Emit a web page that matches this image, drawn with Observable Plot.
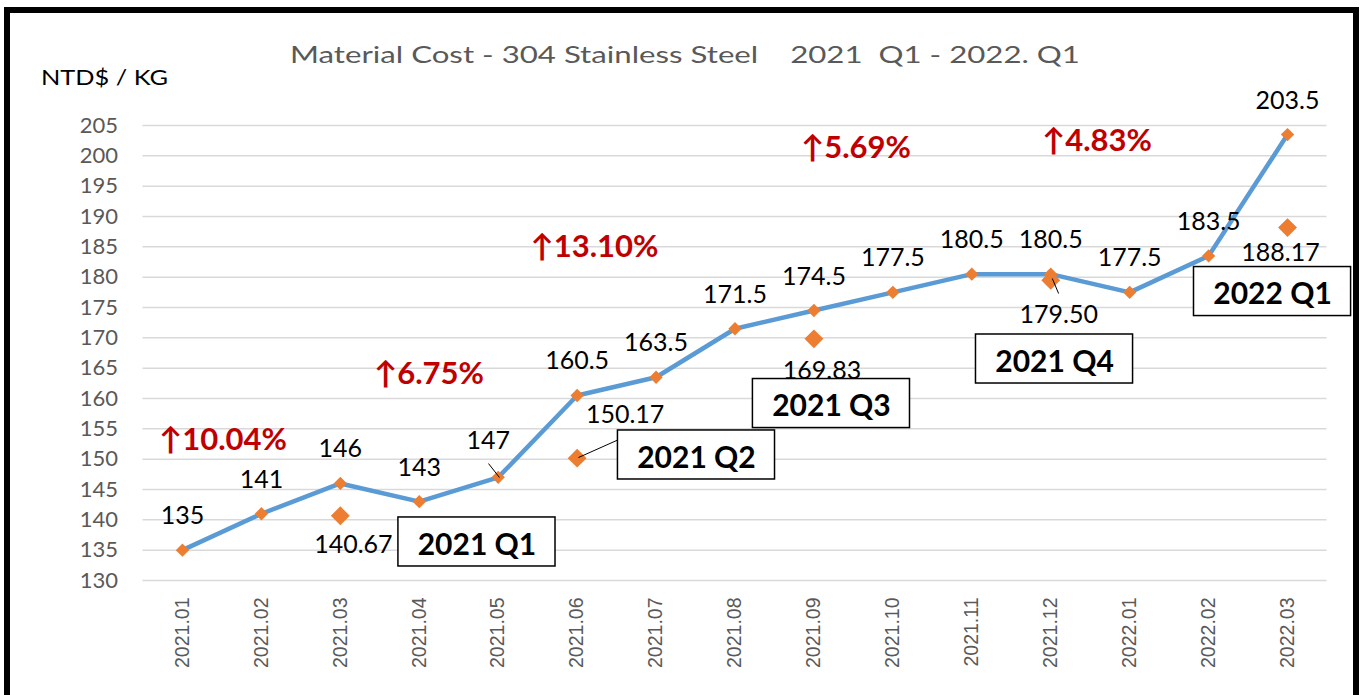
<!DOCTYPE html>
<html><head><meta charset="utf-8">
<script src="https://cdn.jsdelivr.net/npm/d3@7"></script>
<script src="https://cdn.jsdelivr.net/npm/@observablehq/plot@0.6"></script>
<style>
html,body{margin:0;padding:0;background:#fff;overflow:hidden;width:1361px;height:695px}
#chart{position:absolute;left:0;top:0}
#frame{position:absolute;left:4px;top:7px;width:1355px;height:720px;box-sizing:border-box;border:6px solid #000;border-bottom:none;pointer-events:none}
</style></head><body>
<div id="chart"></div><div id="frame"></div>
<script>
// ---- data ----
const months = ["2021.01","2021.02","2021.03","2021.04","2021.05","2021.06","2021.07","2021.08","2021.09","2021.10","2021.11","2021.12","2022.01","2022.02","2022.03"];
const prices = [135, 141, 146, 143, 147, 160.5, 163.5, 171.5, 174.5, 177.5, 180.5, 180.5, 177.5, 183.5, 203.5];
const quarterMonths = ["2021.03","2021.06","2021.09","2021.12","2022.03"];
const quarterAvg = [140.67, 150.17, 169.83, 179.50, 188.17];
const quarterNames = ["2021 Q1","2021 Q2","2021 Q3","2021 Q4","2022 Q1"];
const changeTexts = ["↑10.04%","↑6.75%","↑13.10%","↑5.69%","↑4.83%"];
const yTicks = [130,135,140,145,150,155,160,165,170,175,180,185,190,195,200,205];
const titleText = "Material Cost - 304 Stainless Steel\u00a0\u00a0\u00a0\u00a02021\u00a0\u00a0Q1 - 2022. Q1";
const unitText = "NTD$ / KG";

// ---- annotation layout (x in month index, y in NTD$/KG; offsets in px) ----
const changePos = [[0.513,153.1],[3.123,164.1],[5.22,184.9],[8.533,201.2],[11.586,202.5]];
const boxPos = [[3.731,136.35],[6.512,150.69],[8.222,159.17],[11.048,166.51],[13.81,177.63]];
const avgLabelOffset = [[13,29],[48,-43],[8,32],[8,35],[-7,25]];
const monthLabelDx = {4: -10};
const leaders = [[3.877,149.28,4.016,146.98],[5.017,150.27,5.613,153.73],[11.02,179.78,11.10,177.3]];

const monthly = months.map((m,i)=>({i, m, v: prices[i]}));
const quarters = quarterMonths.map((m,k)=>({i: months.indexOf(m), v: quarterAvg[k], label: quarterAvg[k].toFixed(2), dx: avgLabelOffset[k][0], dy: avgLabelOffset[k][1]}));
const changes = changeTexts.map((t,k)=>({t, x: changePos[k][0], y: changePos[k][1]}));
const boxes = quarterNames.map((t,k)=>({t, x: boxPos[k][0], y: boxPos[k][1]}));
const links = leaders.map(d=>({x1:d[0],y1:d[1],x2:d[2],y2:d[3]}));

const calib = "Lato, 'Open Sans', sans-serif";
const hw = 0.995, hh = 4.04;
const tag = cls => (index, scales, values, dims, ctx, next) => { const g = next(index, scales, values, dims, ctx); g.classList.add(cls); return g; };

const chart = Plot.plot({
  width: 1361, height: 695,
  marginLeft: 142.5, marginRight: 34.5, marginTop: 125, marginBottom: 115,
  style: {fontFamily: calib, background: "transparent"},
  x: {type: "linear", domain: [-0.5, 14.5]},
  y: {domain: [130, 205]},
  marks: [
    Plot.ruleY(yTicks, {stroke: "#d9d9d9", strokeWidth: 1.5}),
    Plot.axisY({ticks: yTicks, tickSize: 0, tickPadding: 25, fontSize: 22, fill: "#595959", label: null, fontFamily: calib}),
    Plot.axisX({ticks: d3.range(months.length), tickFormat: i => months[i], tickRotate: -90, tickSize: 0, tickPadding: 17, fontSize: 19.5, fill: "#595959", label: null, fontFamily: "'Liberation Sans', Arial, sans-serif"}),
    Plot.line(monthly, {x: "i", y: "v", stroke: "#5B9BD5", strokeWidth: 4.5, strokeLinejoin: "round"}),
    Plot.dot(monthly, {x: "i", y: "v", symbol: "diamond2", r: 6, fill: "#ED7D31", stroke: "none"}),
    Plot.dot(quarters, {x: "i", y: "v", symbol: "diamond2", r: 8.5, fill: "#ED7D31", stroke: "none"}),
    Plot.link(links, {x1: "x1", y1: "y1", x2: "x2", y2: "y2", stroke: "#000", strokeWidth: 1}),
    Plot.text(monthly.filter(d => !(d.i in monthLabelDx)), {x: "i", y: "v", text: d => String(d.v), dy: -34, fontSize: 25, fill: "#000", fontFamily: calib}),
    ...monthly.filter(d => d.i in monthLabelDx).map(d =>
      Plot.text([d], {x: "i", y: "v", text: d => String(d.v), dy: -36, dx: monthLabelDx[d.i], fontSize: 25, fill: "#000", fontFamily: calib})),
    ...quarters.map(q =>
      Plot.text([q], {x: "i", y: "v", text: "label", dx: q.dx, dy: q.dy, fontSize: 25, fill: "#000", fontFamily: calib})),
    Plot.text(changes, {x: "x", y: "y", text: "t", fontSize: 31, fontWeight: "bold", fill: "#C00000", fontFamily: calib}),
    Plot.rect(boxes, {x1: d => d.x - hw, x2: d => d.x + hw, y1: d => d.y - hh, y2: d => d.y + hh, fill: "#fff", stroke: "#000", strokeWidth: 1.5}),
    Plot.text(boxes, {x: "x", y: "y", text: "t", fontSize: 30, fontWeight: "bold", fill: "#000", fontFamily: calib, dy: 3}),
    Plot.text([titleText], {frameAnchor: "top", lineAnchor: "middle", text: d => d, dx: -50, dy: -70, fontSize: 23, fill: "#595959", fontFamily: calib, render: tag("fit-title")}),
    Plot.text([unitText], {frameAnchor: "top-left", lineAnchor: "middle", text: d => d, dx: -102, dy: -48, textAnchor: "start", fontSize: 22, fill: "#000", fontFamily: calib, render: tag("fit-unit")})
  ]
});
document.getElementById("chart").appendChild(chart);

// stretch a few texts horizontally to the reference widths
function fit(cls, target) {
  chart.querySelectorAll(`g.${cls} text`).forEach(t => {
    const w = t.getBBox().width;
    if (w > 0) t.setAttribute("transform", (t.getAttribute("transform") || "") + ` scale(${target / w},1)`);
  });
}
fit("fit-title", 790);
fit("fit-unit", 127);
</script>
</body></html>
